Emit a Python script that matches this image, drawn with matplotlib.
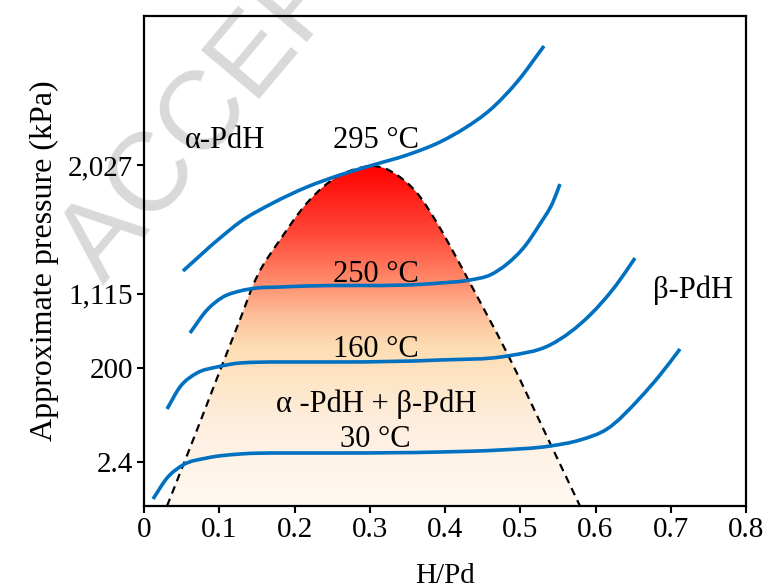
import numpy as np
import matplotlib
matplotlib.use('Agg')
import matplotlib.pyplot as plt
from matplotlib.path import Path
from matplotlib.patches import PathPatch
from matplotlib.colors import LinearSegmentedColormap

plt.rcParams['font.family'] = ['Liberation Serif', 'DejaVu Serif']

# isotherms (H/Pd, relative pressure level 0-100)
x_295 = [0.0518, 0.1010, 0.1276, 0.1714, 0.2166, 0.2605, 0.3043, 0.3495, 0.3934,
         0.4266, 0.4598, 0.4957, 0.5316]
y_295 = [47.96, 54.69, 57.96, 61.84, 65.10, 67.55, 69.59, 71.63, 74.29,
         77.14, 80.82, 86.53, 93.88]

x_250 = [0.0611, 0.0837, 0.1050, 0.1276, 0.1502, 0.1807, 0.2166, 0.3495, 0.3934, 0.4332,
         0.4598, 0.4824, 0.5063, 0.5262, 0.5435, 0.5528]
y_250 = [35.31, 40.00, 42.65, 43.88, 44.49, 44.69, 44.90, 45.10, 45.51, 46.12,
         47.14, 49.39, 53.06, 57.55, 62.04, 65.71]

x_160 = [0.0306, 0.0478, 0.0704, 0.0970, 0.1276, 0.1807, 0.2605, 0.3934, 0.4824, 0.5395,
         0.5927, 0.6286, 0.6525]
y_160 = [19.80, 24.29, 27.14, 28.37, 29.18, 29.39, 29.39, 29.80, 30.61, 32.86,
         38.98, 45.31, 50.61]

x_30 = [0.0120, 0.0306, 0.0518, 0.0837, 0.1276, 0.1807, 0.2605, 0.3934, 0.4731, 0.5395,
        0.5794, 0.6153, 0.6591, 0.6857, 0.7123]
y_30 = [1.43, 5.71, 8.37, 9.80, 10.61, 10.82, 10.82, 11.02, 11.43, 12.24,
        13.47, 15.71, 22.04, 26.73, 32.04]

# miscibility gap (dashed dome)
dome_x = [0.0306, 0.0532, 0.0771, 0.1023, 0.1289, 0.1462, 0.1834, 0.2166, 0.2379, 0.2605,
          0.2817, 0.3030, 0.3203, 0.3362, 0.3628, 0.3894, 0.4133, 0.4332, 0.4824, 0.5395,
          0.5794]
dome_y = [0.0, 8.78, 18.16, 28.16, 38.57, 45.51, 54.90, 61.84, 65.10, 67.55,
          68.78, 69.39, 68.88, 67.55, 63.88, 57.76, 51.22, 45.51, 31.22, 12.86,
          0.0]

ytick_pos = [9.0, 28.2, 43.3, 69.6]
ytick_labels = ['2.4', '200', '1,115', '2,027']
xticks = [0, 0.1, 0.2, 0.3, 0.4, 0.5, 0.6, 0.7, 0.8]
xtick_labels = ['0', '0.1', '0.2', '0.3', '0.4', '0.5', '0.6', '0.7', '0.8']


def smooth_path(xs, ys):
    # hermite curve through the read points (limited slopes), drawn as bezier segments
    x = np.asarray(xs, float)
    y = np.asarray(ys, float)
    h = np.diff(x)
    d = np.diff(y) / h
    m = np.zeros_like(y)
    m[0], m[-1] = d[0], d[-1]
    for i in range(1, len(x) - 1):
        if d[i - 1] * d[i] > 0:
            s = (h[i] * d[i - 1] + h[i - 1] * d[i]) / (h[i - 1] + h[i])
            lim = 3 * min(abs(d[i - 1]), abs(d[i]))
            m[i] = np.sign(s) * min(abs(s), lim)
    verts = [(x[0], y[0])]
    codes = [Path.MOVETO]
    for i in range(len(x) - 1):
        verts += [(x[i] + h[i] / 3, y[i] + m[i] * h[i] / 3),
                  (x[i + 1] - h[i] / 3, y[i + 1] - m[i + 1] * h[i] / 3),
                  (x[i + 1], y[i + 1])]
        codes += [Path.CURVE4] * 3
    return Path(verts, codes)


fig = plt.figure(figsize=(7.69, 5.88), dpi=100)
ax = fig.add_axes([144/769, 1 - 506/588, 602/769, 490/588])
ax.patch.set_alpha(0)

# watermark
fig.text(103/769, 1 - 285/588, 'ACCEPTED MANUSCRIPT', rotation=50, rotation_mode='anchor',
         ha='left', va='baseline', fontsize=80, color='#d9d9d9',
         family='Liberation Sans', zorder=-5)

# gradient fill inside the dome
dome = smooth_path(dome_x, dome_y)
clip = PathPatch(dome, facecolor='none', edgecolor='none', transform=ax.transData)
ax.add_patch(clip)
cmap = LinearSegmentedColormap.from_list('dome', [
    (0.0, '#FFF9F3'), (0.25, '#FEEEDD'), (0.47, '#FDDDB2'), (0.56, '#FDBE9A'),
    (0.65, '#FF9070'), (0.80, '#FF4838'), (1.0, '#FF0000')])
grad = np.linspace(0, 1, 256)[:, None]
im = ax.imshow(grad, extent=[min(dome_x), max(dome_x), 0, max(dome_y)], origin='lower',
               cmap=cmap, aspect='auto', zorder=1)
im.set_clip_path(clip)
ax.add_patch(PathPatch(dome, facecolor='none', edgecolor='black', lw=1.6,
                       linestyle=(0, (3.5, 2.5)), zorder=2))

for xs, ys in [(x_295, y_295), (x_250, y_250), (x_160, y_160), (x_30, y_30)]:
    ax.add_patch(PathPatch(smooth_path(xs, ys), facecolor='none', edgecolor='#0070C0',
                           lw=2.6, capstyle='butt', zorder=3))

tfs = 22
ax.text(0.1076, 73.1, 'α-PdH', ha='center', va='baseline', fontsize=tfs)
ax.text(0.308, 73.1, '295 °C', ha='center', va='baseline', fontsize=tfs)
ax.text(0.308, 45.7, '250 °C', ha='center', va='baseline', fontsize=tfs)
ax.text(0.308, 30.4, '160 °C', ha='center', va='baseline', fontsize=tfs)
ax.text(0.309, 19.2, 'α -PdH + β-PdH', ha='center', va='baseline', fontsize=tfs)
ax.text(0.308, 12.0, '30 °C', ha='center', va='baseline', fontsize=tfs)
ax.text(0.730, 42.4, 'β-PdH', ha='center', va='baseline', fontsize=tfs)

ax.set_xlim(0, 0.8)
ax.set_ylim(0, 100)
ax.set_xticks(xticks)
ax.set_xticklabels(xtick_labels)
ax.set_yticks(ytick_pos)
ax.set_yticklabels(ytick_labels)
ax.tick_params(direction='out', length=5, width=1.5, labelsize=21, pad=3)
for s in ax.spines.values():
    s.set_linewidth(1.6)
ax.set_xlabel('H/Pd', fontsize=21, labelpad=14)
ax.set_ylabel('Approximate pressure (kPa)', fontsize=23, labelpad=6)

fig.savefig('out.png', dpi=100)
